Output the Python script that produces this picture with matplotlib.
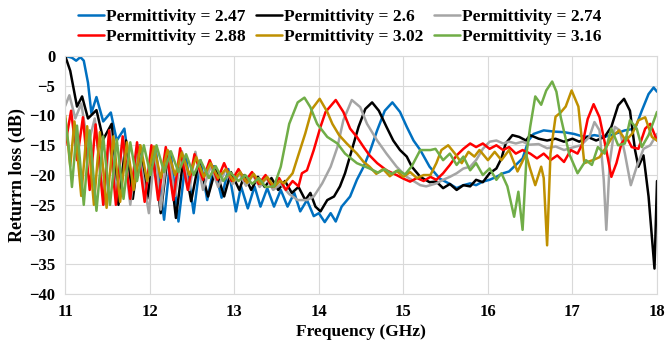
import matplotlib.pyplot as plt

# (frequency GHz, return loss dB)
blue_f = [11.00, 11.08, 11.13, 11.18, 11.22, 11.27, 11.31, 11.37, 11.45, 11.54, 11.61, 11.70, 11.80, 11.88, 11.98,
          12.07, 12.17, 12.25, 12.34, 12.43, 12.52, 12.60, 12.68, 12.76, 12.85, 12.93, 13.02, 13.08, 13.16, 13.24,
          13.31, 13.39, 13.47, 13.55, 13.63, 13.71, 13.78, 13.86, 13.94, 14.00, 14.07, 14.14, 14.20, 14.27, 14.37,
          14.45, 14.53, 14.61, 14.69, 14.78, 14.87, 14.96, 15.04, 15.12, 15.20, 15.31, 15.43, 15.55, 15.63, 15.71,
          15.79, 15.86, 15.94, 16.02, 16.10, 16.18, 16.25, 16.33, 16.41, 16.48, 16.54, 16.66, 16.78, 16.90, 17.02,
          17.14, 17.26, 17.38, 17.50, 17.62, 17.74, 17.82, 17.90, 17.96, 18.00]
blue_v = [0.0, -0.3, -0.8, -0.2, -0.8, -4.5, -9.6, -6.9, -11.0, -9.5, -14.2, -12.2, -22.5, -15.0, -23.5,
          -15.5, -27.5, -16.5, -27.8, -17.0, -26.4, -17.5, -24.2, -18.5, -23.8, -19.0, -26.1, -21.9, -25.6, -21.9,
          -25.3, -22.2, -25.3, -22.5, -25.3, -23.0, -26.1, -24.2, -26.9, -26.4, -27.9, -26.4, -27.8, -25.3, -23.6,
          -20.8, -18.6, -15.8, -12.5, -9.2, -7.8, -9.4, -11.9, -14.2, -15.8, -18.6, -20.6, -21.5, -22.2, -21.7,
          -21.4, -21.7, -21.1, -20.8, -20.3, -19.7, -19.4, -18.3, -17.2, -14.2, -13.1, -12.5, -12.7, -12.8, -13.1,
          -13.6, -13.3, -13.6, -13.1, -12.5, -12.2, -9.2, -6.4, -5.3, -6.0]

black_f = [11.00, 11.06, 11.14, 11.20, 11.27, 11.37, 11.45, 11.55, 11.63, 11.72, 11.80, 11.88, 11.97, 12.05,
           12.13, 12.22, 12.31, 12.40, 12.49, 12.58, 12.69, 12.78, 12.88, 12.96, 13.06, 13.12, 13.20, 13.28, 13.36,
           13.44, 13.52, 13.60, 13.68, 13.76, 13.84, 13.90, 13.96, 14.02, 14.10, 14.18, 14.25, 14.31, 14.39, 14.47,
           14.55, 14.63, 14.71, 14.80, 14.88, 14.96, 15.04, 15.10, 15.20, 15.31, 15.39, 15.47, 15.55, 15.63, 15.71,
           15.79, 15.86, 15.94, 16.02, 16.10, 16.16, 16.21, 16.29, 16.37, 16.45, 16.50, 16.60, 16.70, 16.80, 16.90,
           17.00, 17.08, 17.18, 17.28, 17.38, 17.46, 17.54, 17.61, 17.68, 17.74, 17.78, 17.84, 17.90, 17.97, 18.00]
black_v = [0.0, -2.5, -8.5, -6.8, -10.5, -9.1, -14.0, -11.4, -25.0, -14.2, -24.0, -15.5, -24.0, -16.5,
           -26.4, -16.0, -27.2, -17.0, -24.4, -17.8, -23.6, -19.0, -23.6, -19.5, -22.5, -20.0, -22.5, -20.3, -22.0,
           -20.5, -22.5, -21.0, -23.0, -22.0, -24.2, -23.0, -25.3, -26.1, -24.2, -23.6, -21.9, -19.7, -15.8, -11.9,
           -8.9, -7.8, -9.2, -11.9, -14.2, -15.8, -16.9, -18.6, -20.3, -21.2, -21.1, -22.2, -21.5, -22.5, -21.7,
           -21.9, -20.8, -21.2, -19.7, -18.9, -17.2, -14.7, -13.3, -13.6, -14.2, -13.3, -13.9, -14.2, -13.9, -14.4,
           -13.9, -14.4, -13.6, -14.2, -13.6, -11.9, -8.3, -7.2, -9.2, -15.8, -18.6, -16.7, -23.6, -35.7, -21.0]

gray_f = [11.00, 11.05, 11.12, 11.19, 11.27, 11.35, 11.46, 11.53, 11.60, 11.68, 11.77, 11.86, 11.99, 12.06, 12.13,
          12.21, 12.30, 12.38, 12.47, 12.54, 12.63, 12.72, 12.81, 12.90, 12.98, 13.06, 13.14, 13.22, 13.30, 13.38,
          13.46, 13.55, 13.65, 13.75, 13.86, 13.94, 14.04, 14.14, 14.22, 14.29, 14.39, 14.49, 14.57, 14.69, 14.80,
          14.92, 15.04, 15.20, 15.27, 15.39, 15.47, 15.55, 15.63, 15.71, 15.79, 15.86, 15.94, 16.02, 16.10, 16.18,
          16.25, 16.33, 16.41, 16.49, 16.60, 16.70, 16.80, 16.90, 17.02, 17.10, 17.20, 17.26, 17.32, 17.37, 17.40,
          17.44, 17.50, 17.56, 17.62, 17.69, 17.76, 17.84, 17.92, 18.00]
gray_v = [-8.4, -6.6, -10.5, -8.0, -15.0, -10.5, -24.9, -12.5, -23.0, -14.0, -25.0, -15.0, -26.4, -15.5, -25.8,
          -15.8, -23.5, -16.0, -22.5, -16.1, -22.5, -18.5, -22.0, -19.0, -21.5, -19.8, -21.8, -20.0, -22.0, -20.5,
          -22.5, -21.5, -23.2, -24.2, -24.2, -23.6, -21.4, -18.6, -15.3, -10.8, -7.4, -8.6, -11.4, -14.2, -16.4,
          -18.6, -20.3, -21.7, -21.9, -21.4, -20.8, -20.3, -19.7, -18.9, -18.6, -17.5, -15.6, -14.4, -14.2, -14.7,
          -14.4, -14.7, -14.4, -14.9, -14.8, -15.5, -15.2, -15.8, -15.3, -15.0, -13.6, -11.1, -12.5, -20.8, -29.2,
          -18.0, -11.9, -12.5, -16.4, -21.7, -18.6, -15.6, -15.0, -13.1]

red_f = [11.00, 11.07, 11.14, 11.21, 11.29, 11.36, 11.45, 11.52, 11.60, 11.68, 11.77, 11.85, 11.94, 12.02, 12.10,
         12.19, 12.28, 12.36, 12.45, 12.53, 12.63, 12.71, 12.80, 12.88, 12.97, 13.05, 13.13, 13.21, 13.29, 13.37,
         13.45, 13.53, 13.61, 13.69, 13.76, 13.80, 13.86, 13.94, 14.02, 14.08, 14.20, 14.29, 14.37, 14.45, 14.53,
         14.60, 14.69, 14.80, 14.92, 15.00, 15.08, 15.16, 15.24, 15.32, 15.39, 15.47, 15.55, 15.63, 15.71, 15.79,
         15.86, 15.94, 16.02, 16.10, 16.18, 16.25, 16.33, 16.41, 16.50, 16.58, 16.66, 16.74, 16.82, 16.90, 16.98,
         17.06, 17.12, 17.18, 17.25, 17.32, 17.40, 17.46, 17.52, 17.58, 17.64, 17.70, 17.78, 17.86, 17.92, 18.00]
red_v = [-15.0, -9.2, -17.5, -10.3, -22.5, -11.5, -25.0, -12.5, -25.0, -13.5, -24.0, -14.5, -24.5, -15.0, -24.2,
         -15.3, -24.2, -15.5, -22.5, -16.5, -20.8, -17.5, -20.8, -18.0, -21.0, -19.0, -21.0, -19.5, -21.5, -20.0,
         -22.0, -20.5, -22.5, -21.0, -21.9, -19.7, -19.2, -15.8, -11.9, -9.4, -7.4, -9.4, -12.2, -13.6, -15.3,
         -16.7, -18.0, -19.2, -20.0, -20.6, -21.1, -20.5, -21.0, -20.3, -20.8, -19.7, -18.3, -16.7, -15.6, -14.7,
         -15.3, -14.7, -15.6, -15.0, -15.8, -15.3, -16.4, -15.8, -16.4, -17.2, -16.4, -17.5, -16.7, -17.8, -15.8,
         -16.4, -14.7, -10.6, -8.1, -10.3, -15.8, -20.3, -18.0, -14.7, -13.6, -15.3, -15.6, -12.2, -11.4, -14.2]

gold_f = [11.00, 11.06, 11.11, 11.19, 11.26, 11.34, 11.41, 11.49, 11.57, 11.65, 11.73, 11.81, 11.89, 11.97, 12.05,
          12.13, 12.21, 12.30, 12.38, 12.47, 12.55, 12.64, 12.72, 12.81, 12.90, 12.99, 13.07, 13.15, 13.23, 13.31,
          13.39, 13.47, 13.54, 13.59, 13.69, 13.75, 13.84, 13.92, 14.01, 14.10, 14.16, 14.24, 14.33, 14.45, 14.53,
          14.60, 14.68, 14.76, 14.84, 14.92, 15.00, 15.08, 15.16, 15.24, 15.32, 15.39, 15.45, 15.53, 15.61, 15.69,
          15.77, 15.84, 15.90, 16.00, 16.08, 16.16, 16.25, 16.35, 16.45, 16.50, 16.56, 16.63, 16.66, 16.70, 16.74,
          16.80, 16.86, 16.92, 16.99, 17.07, 17.14, 17.24, 17.32, 17.40, 17.47, 17.55, 17.63, 17.71, 17.78, 17.86,
          17.94, 18.00]
gold_v = [-10.0, -18.5, -11.0, -23.5, -11.8, -25.0, -12.8, -25.5, -13.5, -24.5, -14.5, -22.5, -15.0, -21.0, -15.2,
          -20.5, -15.8, -20.0, -16.2, -20.0, -17.0, -20.3, -18.0, -20.5, -19.0, -21.0, -19.5, -21.3, -19.8, -21.5,
          -20.3, -22.0, -21.0, -21.4, -19.7, -17.0, -13.0, -8.9, -7.2, -9.4, -11.4, -13.3, -14.7, -16.4, -17.8,
          -18.6, -19.8, -19.0, -20.2, -19.3, -20.3, -19.5, -20.5, -20.0, -20.0, -18.0, -15.8, -15.0, -16.4, -18.0,
          -16.1, -16.9, -15.8, -17.5, -16.1, -17.5, -15.8, -19.4, -16.5, -19.0, -21.7, -18.6, -20.5, -31.8, -16.4,
          -10.2, -9.5, -8.5, -5.8, -8.5, -18.0, -17.5, -17.0, -15.3, -13.6, -12.5, -14.2, -13.0, -10.8, -10.3,
          -13.6, -14.2]

green_f = [11.00, 11.04, 11.08, 11.14, 11.22, 11.29, 11.37, 11.45, 11.53, 11.61, 11.69, 11.77, 11.85, 11.93, 12.01,
           12.08, 12.17, 12.25, 12.34, 12.43, 12.52, 12.60, 12.70, 12.78, 12.87, 12.95, 13.05, 13.13, 13.21, 13.29,
           13.37, 13.47, 13.55, 13.65, 13.75, 13.83, 13.90, 13.98, 14.10, 14.22, 14.31, 14.45, 14.60, 14.70, 14.78,
           14.86, 14.94, 15.02, 15.10, 15.20, 15.32, 15.38, 15.47, 15.55, 15.63, 15.71, 15.79, 15.86, 15.94, 16.02,
           16.10, 16.16, 16.23, 16.31, 16.36, 16.41, 16.46, 16.50, 16.56, 16.63, 16.69, 16.76, 16.81, 16.86, 16.96,
           17.06, 17.16, 17.23, 17.30, 17.38, 17.46, 17.54, 17.62, 17.68, 17.76, 17.82, 17.90, 18.00]
green_v = [-10.5, -15.0, -22.0, -11.7, -25.0, -12.5, -26.0, -13.5, -25.0, -14.0, -24.0, -14.5, -21.0, -15.0, -20.0,
           -15.0, -19.5, -16.0, -19.5, -16.5, -20.0, -17.5, -20.5, -18.5, -21.0, -19.5, -21.0, -20.0, -21.5, -20.5,
           -22.0, -21.9, -18.6, -11.4, -7.8, -7.0, -8.6, -11.4, -13.6, -14.7, -16.4, -18.0, -18.9, -19.6, -19.0,
           -19.8, -19.2, -19.9, -18.5, -15.8, -15.8, -15.6, -17.5, -16.4, -18.3, -16.9, -19.2, -18.0, -20.0, -18.9,
           -20.8, -19.7, -21.9, -27.0, -22.8, -29.2, -16.0, -11.9, -6.8, -8.2, -5.8, -4.3, -6.0, -10.2, -16.4,
           -19.7, -17.5, -18.3, -15.3, -16.4, -12.2, -15.0, -14.7, -10.8, -12.2, -15.3, -13.3, -9.4]

labels = ['Permittivity = 2.47', 'Permittivity = 2.6', 'Permittivity = 2.74',
          'Permittivity = 2.88', 'Permittivity = 3.02', 'Permittivity = 3.16']
series = [(blue_f, blue_v), (black_f, black_v), (gray_f, gray_v),
          (red_f, red_v), (gold_f, gold_v), (green_f, green_v)]
colors = ['#0070C0', '#000000', '#A5A5A5', '#FF0000', '#BF9000', '#70AD47']

plt.rcParams['font.family'] = ['Liberation Serif', 'DejaVu Serif']
plt.rcParams['font.weight'] = 'bold'

fig = plt.figure(figsize=(6.65, 3.54), dpi=100)
ax = fig.add_axes([0.098, 0.169, 0.89, 0.673])

lines = []
for (f, v), c, lab in zip(series, colors, labels):
    ln, = ax.plot(f, v, color=c, lw=1.8, label=lab, solid_joinstyle='round', solid_capstyle='round')
    lines.append(ln)

ax.set_xlim(11, 18)
ax.set_ylim(-40, 0)
ax.set_xticks(range(11, 19))
ax.set_yticks(range(-40, 1, 5))
ax.grid(True, color='#D9D9D9', lw=0.8)
ax.set_axisbelow(True)
for s in ax.spines.values():
    s.set_color('#D9D9D9')
ax.tick_params(length=0, labelsize=12, pad=7)
for t in ax.get_xticklabels() + ax.get_yticklabels():
    t.set_fontweight('bold')

ax.set_xlabel('Frequency (GHz)', fontsize=12.5, fontweight='bold', labelpad=3)
ax.set_ylabel('Returrn loss (dB)', fontsize=13, fontweight='bold', labelpad=2)

order = [0, 3, 1, 4, 2, 5]
fig.legend([lines[i] for i in order], [labels[i] for i in order], ncol=3,
           loc='upper center', bbox_to_anchor=(0.511, 1.02), frameon=False,
           prop={'size': 12.5, 'weight': 'bold'}, handlelength=1.5, handletextpad=0.1,
           columnspacing=0.6, labelspacing=0.22)

fig.savefig('out.png', dpi=100)
